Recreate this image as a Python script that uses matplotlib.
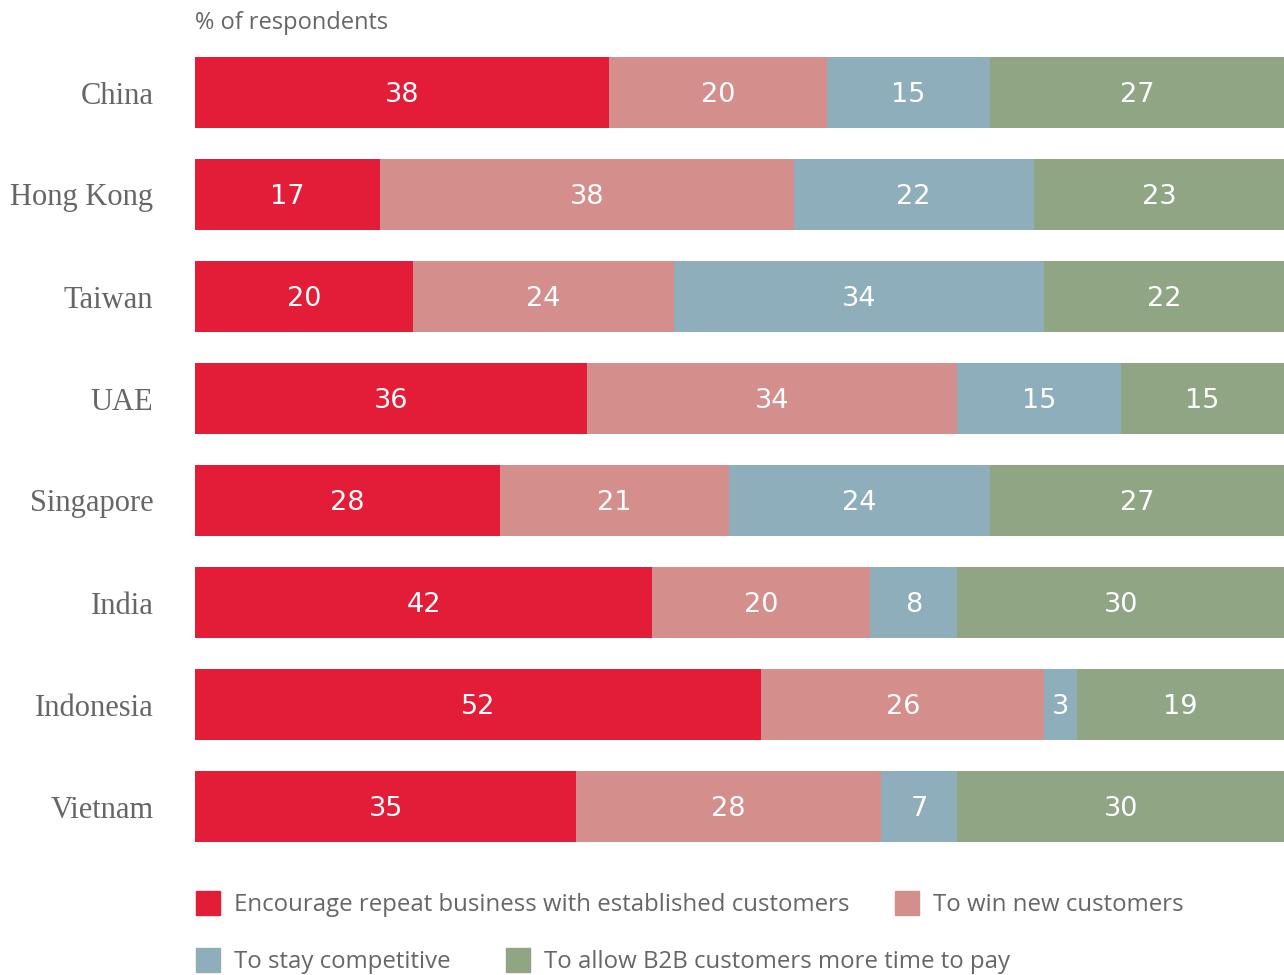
import matplotlib
matplotlib.use("Agg")
import matplotlib.pyplot as plt
from matplotlib.patches import Rectangle

countries = ["China", "Hong Kong", "Taiwan", "UAE", "Singapore", "India", "Indonesia", "Vietnam"]
repeat_business = [38, 17, 20, 36, 28, 42, 52, 35]
win_new = [20, 38, 24, 34, 21, 20, 26, 28]
stay_competitive = [15, 22, 34, 15, 24, 8, 3, 7]
more_time = [27, 23, 22, 15, 27, 30, 19, 30]

series_names = [
    "Encourage repeat business with established customers",
    "To win new customers",
    "To stay competitive",
    "To allow B2B customers more time to pay",
]
colors = ["#E31C37", "#D48F8D", "#8FAEBB", "#8FA584"]
text_grey = "#666666"

W, H = 1284, 975
fig = plt.figure(figsize=(W / 100, H / 100), dpi=100)
ax = fig.add_axes([195 / W, 1 - 857.5 / H, 1 - 195 / W, (857.5 - 41.5) / H])

series = [repeat_business, win_new, stay_competitive, more_time]
ypos = list(range(len(countries)))
lefts = [0] * len(countries)
for vals, col in zip(series, colors):
    ax.barh(ypos, vals, left=lefts, height=0.696, color=col, edgecolor="none")
    for y, l, v in zip(ypos, lefts, vals):
        ax.text(l + v / 2, y, str(v), ha="center", va="center_baseline", color="white",
                fontsize=19.5, family="DejaVu Sans")
    lefts = [l + v for l, v in zip(lefts, vals)]

ax.set_xlim(0, 100)
ax.set_ylim(len(countries) - 0.5, -0.5)
ax.set_yticks(ypos)
ax.set_yticklabels(countries, family="Liberation Serif", fontsize=22, color=text_grey,
                   va="center_baseline")
ax.tick_params(axis="y", length=0, pad=30)
ax.set_xticks([])
for s in ax.spines.values():
    s.set_visible(False)

fig.text(195 / W, 1 - 23 / H, "% of respondents", ha="left", va="center",
         fontsize=17, color=text_grey, family="Open Sans")

# Legend drawn in figure coordinates
legend_items = [
    (196, 903, 0), (895, 903, 1),
    (196, 960, 2), (506, 960, 3),
]
sq = 24
for x, y, i in legend_items:
    fig.patches.append(Rectangle((x / W, 1 - (y + sq / 2) / H), sq / W, sq / H,
                                 transform=fig.transFigure, color=colors[i]))
    fig.text((x + 38) / W, 1 - (y + 2) / H, series_names[i], ha="left", va="center",
             fontsize=17.3, color=text_grey, family="Open Sans")

fig.savefig("out.png", dpi=100, facecolor="white")
